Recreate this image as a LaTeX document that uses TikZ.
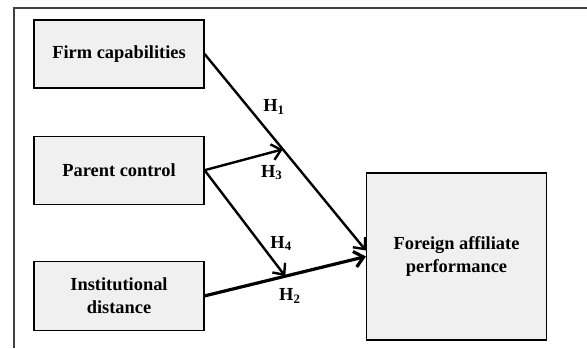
\documentclass[tikz,border=0pt]{standalone}
\usepackage{fontspec}
\setmainfont{Liberation Serif}
\usetikzlibrary{positioning, arrows.meta}

\begin{document}
\begin{tikzpicture}[x=1pt,y=1pt,>={Straight Barb[length=4.5pt,width=8pt]},
    box/.style={draw,fill=black!6,line width=0.6pt,minimum width=85pt,minimum height=34pt,
        align=center,font=\bfseries\fontsize{9.2}{11.3}\selectfont},
    lbl/.style={font=\bfseries\fontsize{9.2}{11}\selectfont,inner sep=0pt},
    arr/.style={->,line width=1.2pt}]
    \useasboundingbox (0,0) rectangle (293.5,-174);
    \draw[black!75,line width=0.6pt] (293.5,-4) -- (7,-4) -- (7,-174);

    \node[box] (fc) at (59.5,-27) {Firm capabilities};
    \node[box] (pc) [below=23.5pt of fc] {Parent control};
    \node[box,minimum height=34.5pt] (id) [below=28pt of pc] {Institutional\\distance};
    \node[box,minimum width=90pt,minimum height=83.5pt] (fap) at (228.25,-128.25) {Foreign affiliate\\performance};

    \draw[arr] (fc.east) -- node[lbl,pos=0.27,right=7pt] {H\textsubscript{1}}
        coordinate[pos=0.485] (m1) ([yshift=3pt]fap.west);
    \draw[arr,line width=1.6pt] (id.east) -- node[lbl,pos=0.53,below=6pt] {H\textsubscript{2}}
        coordinate[pos=0.5] (m2) (fap.west);
    \draw[arr] (pc.east) -- node[lbl,pos=0.86,below=6pt] {H\textsubscript{3}} (m1);
    \draw[arr] (pc.east) -- node[lbl,pos=0.69,right=4.5pt] {H\textsubscript{4}} (m2);
\end{tikzpicture}
\end{document}
